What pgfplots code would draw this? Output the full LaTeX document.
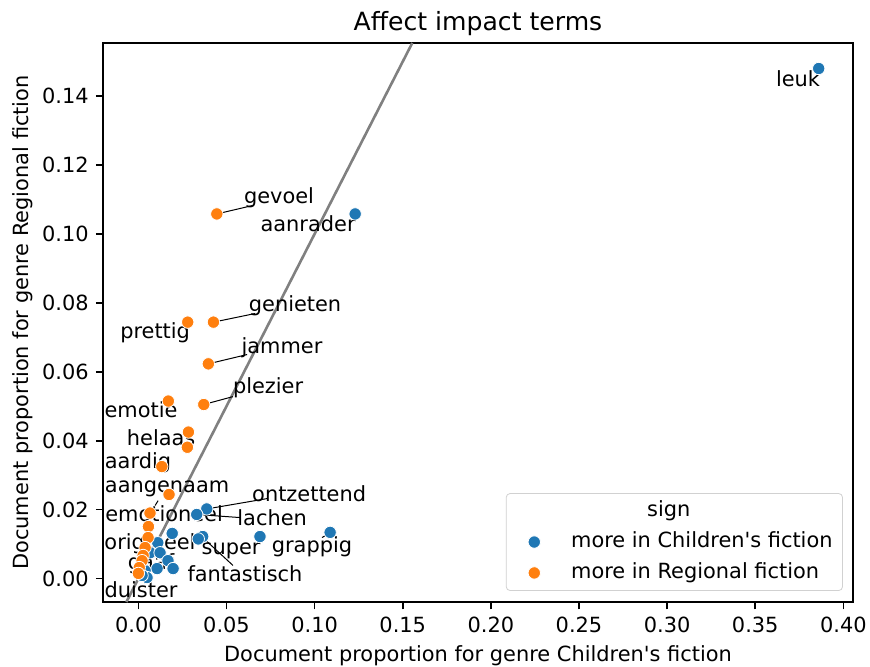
\documentclass[border=0pt]{standalone}
\usepackage{fontspec}
\setmainfont{DejaVu Sans}
\usepackage{pgfplots}
\pgfplotsset{compat=1.18}
\definecolor{tabblue}{HTML}{1F77B4}
\definecolor{taborange}{HTML}{FF7F0E}
\definecolor{lgray}{HTML}{808080}
\newcommand{\lbl}[3]{\node[anchor=center,inner sep=0pt] at (axis cs:#1,#2) {#3};}
\begin{document}
\fontsize{10.45pt}{12.5pt}\selectfont
\begin{tikzpicture}
\path[use as bounding box] (-51.65pt,-32.5pt) rectangle (383.35pt,301pt);
\begin{axis}[
  at={(0,0)}, anchor=south west,
  scale only axis, width=374.7pt, height=279.5pt,
  xmin=-0.0199, xmax=0.4053, ymin=-0.0068, ymax=0.1554,
  clip=false,
  axis line style={line width=0.84pt},
  every tick/.style={line width=0.84pt, black},
  tick align=outside, major tick length=3.66pt,
  xtick={0,0.05,0.10,0.15,0.20,0.25,0.30,0.35,0.40},
  ytick={0,0.02,0.04,0.06,0.08,0.10,0.12,0.14},
  xtick pos=bottom, ytick pos=left,
  /pgf/number format/assume math mode=true,
  xticklabel style={/pgf/number format/.cd, fixed, fixed zerofill, precision=2},
  yticklabel style={/pgf/number format/.cd, fixed, fixed zerofill, precision=2},
  scaled ticks=false,
  title={Affect impact terms},
  every axis title shift=0pt,
  title style={at={(axis description cs:0.5,1.022)}, anchor=base, yshift=0pt, font=\fontsize{12.55pt}{15pt}\selectfont, inner sep=0pt},
  xlabel={Document proportion for genre Children\textquotesingle s fiction},
  ylabel={Document proportion for genre Regional fiction},
  xlabel style={at={(axis description cs:0.5,-0.1073)}, anchor=base, inner sep=0pt},
  ylabel style={at={(axis description cs:-0.0994,0.5)}, anchor=base, inner sep=0pt},
  legend style={at={(rel axis cs:0.987,0.0197)}, anchor=south east,
    draw=black!18, rounded corners=2pt, fill=white, fill opacity=0.8, text opacity=1,
    inner xsep=3pt, inner ysep=1.6pt, row sep=1pt, column sep=7.9pt,
    nodes={inner sep=2pt, text height=0.76em, text depth=0.24em},
    font=\fontsize{10.45pt}{12.5pt}\selectfont},
  legend cell align=left,
  legend image code/.code={\path[draw=none] (-2.5pt,0pt) -- (0.6cm,0pt);
    \path[#1, draw=none, fill opacity=1, draw opacity=1] plot[only marks] coordinates {(0.3cm,0cm)};},
]
\addlegendimage{empty legend}
\addlegendentry{\hspace*{38pt}sign}
\addplot[only marks, mark=*, mark size=3.1pt, mark options={fill=tabblue, draw=white, line width=0.4pt, fill opacity=1}] table {
x y
0.386 0.148
0.123 0.1058
0.1088 0.0134
0.069 0.0122
0.0388 0.0202
0.0331 0.0186
0.0365 0.0122
0.034 0.0115
0.0192 0.0131
0.011 0.0104
0.0067 0.0075
0.0123 0.0075
0.0168 0.0052
0.0197 0.0029
0.0106 0.0029
0.0038 0.0023
0.0049 0.0003
0.0021 0.0009
};
\addlegendentry{more in Children\textquotesingle s fiction}
\addplot[only marks, mark=*, mark size=3.1pt, mark options={fill=taborange, draw=white, line width=0.4pt, fill opacity=1}] table {
x y
0.0445 0.1058
0.0426 0.0744
0.028 0.0744
0.0397 0.0623
0.0371 0.0505
0.017 0.0515
0.0284 0.0425
0.0278 0.0381
0.0133 0.0325
0.0174 0.0244
0.0066 0.019
0.0057 0.0151
0.0055 0.0119
0.0038 0.009
0.0027 0.0067
0.0021 0.0052
0.0005 0.0032
0.0 0.0015
};
\addlegendentry{more in Regional fiction}
% y = x reference line
\addplot[forget plot, lgray, line width=1.3pt] coordinates {(-0.0068,-0.0068) (0.1554,0.1554)};
% connectors
\addplot[forget plot, black, line width=0.5pt] coordinates {(0.0445,0.1058) (0.0645,0.1082)};
\addplot[forget plot, black, line width=0.5pt] coordinates {(0.0426,0.0744) (0.0662,0.0769)};
\addplot[forget plot, black, line width=0.5pt] coordinates {(0.0397,0.0623) (0.0617,0.065)};
\addplot[forget plot, black, line width=0.5pt] coordinates {(0.0371,0.0505) (0.0537,0.0528)};
\addplot[forget plot, black, line width=0.5pt] coordinates {(0.0388,0.0202) (0.073,0.0232)};
\addplot[forget plot, black, line width=0.5pt] coordinates {(0.0331,0.0186) (0.0577,0.0177)};
\addplot[forget plot, black, line width=0.5pt] coordinates {(0.0384,0.011) (0.0537,0.0038)};
\addplot[forget plot, black, line width=0.5pt] coordinates {(0.1088,0.0133) (0.1042,0.0119)};
\addplot[forget plot, black, line width=0.5pt] coordinates {(0.0095,0.0212) (0.0112,0.0226)};
\addplot[forget plot, black, line width=0.5pt] coordinates {(0.0078,0.0003) (0.0055,-0.0012)};
% labels
\lbl{0.3743}{0.1451}{leuk}
\lbl{0.0963}{0.1030}{aanrader}
\lbl{0.0798}{0.1106}{gevoel}
\lbl{0.0889}{0.0792}{genieten}
\lbl{0.0095}{0.0714}{prettig}
\lbl{0.0815}{0.0670}{jammer}
\lbl{0.0736}{0.0554}{plezier}
\lbl{0.0015}{0.0490}{emotie}
\lbl{0.0129}{0.0409}{helaas}
\lbl{-0.0002}{0.0337}{aardig}
\lbl{0.0163}{0.0261}{aangenaam}
\lbl{0.0146}{0.0189}{emotioneel}
\lbl{0.0969}{0.0247}{ontzettend}
\lbl{0.0759}{0.0177}{lachen}
\lbl{0.0066}{0.0102}{origineel}
\lbl{0.0526}{0.0081}{super}
\lbl{0.0985}{0.0093}{grappig}
\lbl{0.0072}{0.0044}{gaaf}
\lbl{0.0605}{0.0015}{fantastisch}
\lbl{0.0015}{-0.0032}{duister}
\end{axis}
\end{tikzpicture}
\end{document}
